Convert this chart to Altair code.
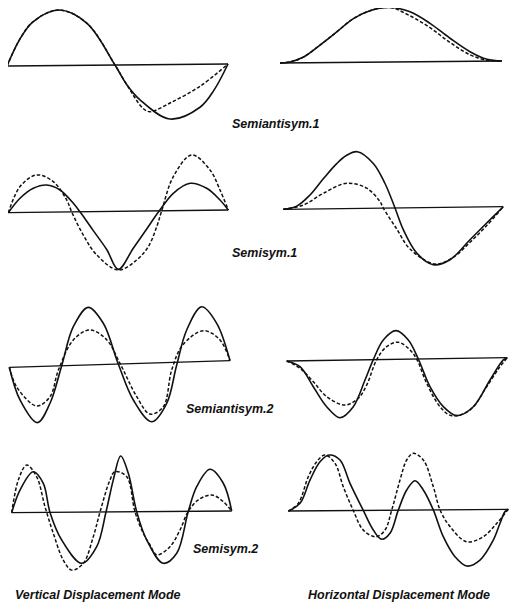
import altair as alt
import pandas as pd

# ---------------- mode-shape readings ----------------
# station = distance along the span from the left support
# defl    = deflection, positive upward (same units as station)

# Semiantisym.1 - vertical
v_sa1_solid_st = [0, 13, 26, 52, 80, 108, 120, 133, 163, 193, 207, 221]
v_sa1_solid_df = [0, 27, 44, 55.5, 42, 0, -20, -35, -54.5, -43, -26, 0]
v_sa1_dash_st = [0, 13, 26, 52, 80, 108, 120, 136, 143, 163, 193, 221]
v_sa1_dash_df = [0, 27, 44, 55.5, 42, 0, -20, -43.6, -47, -38.5, -22, 0]

# Semiantisym.1 - horizontal
h_sa1_solid_st = [0, 10, 23, 40, 57, 73, 90, 110, 130, 150, 170, 190, 207, 222]
h_sa1_solid_df = [0, 1, 5.5, 17.6, 30.8, 43.5, 51.5, 54.5, 50, 38.3, 23.2, 9.6, 1.8, 0]
h_sa1_dash_st = [0, 10, 23, 40, 57, 73, 90, 110, 130, 150, 170, 190, 207, 222]
h_sa1_dash_df = [0, 1, 5.5, 17.6, 30.8, 43.5, 51.5, 54.5, 46, 34, 19, 6.5, 0.8, 0]

# Semisym.1 - vertical
v_s1_solid_st = [0, 11.7, 25, 38.4, 51.7, 65, 71.7, 85, 98.4, 110, 125, 138.4, 151, 165, 181.7, 198.4, 211.7, 220]
v_s1_solid_df = [0, 14.3, 24.1, 27.2, 22.1, 8.6, 0, -19, -38, -58, -37, -18, 0, 17.4, 27.2, 22, 10.1, 0]
v_s1_dash_st = [0, 11.7, 28.4, 45, 58.4, 63.4, 75, 88.4, 110, 128.4, 140, 148.4, 153.4, 165, 183.4, 201.7, 211.7, 220]
v_s1_dash_df = [0, 26, 37.4, 30.5, 12, 0, -23.3, -43.3, -58.7, -48.8, -35.7, -15.9, 0, 34, 55.5, 40.3, 20.1, 0]

# Semisym.1 - horizontal
h_s1_solid_st = [0, 13.4, 26.7, 40, 53.4, 63, 74, 90, 101.7, 111.7, 120, 133.4, 150, 166.7, 186.7, 203.4, 220]
h_s1_solid_df = [0, 3, 14, 30, 45, 53, 56.7, 44.8, 24.6, 0, -21.8, -45.3, -57.2, -52.4, -32.6, -16.1, 0]
h_s1_dash_st = [0, 20, 40, 63.4, 83.4, 96.7, 100, 113.4, 126.7, 151.7, 170, 186.7, 203.4, 220]
h_s1_dash_df = [0, 4, 15.5, 25.3, 20.1, 6.5, 0, -21, -41.2, -56.5, -50, -35.2, -18.7, 0]

# Semiantisym.2 - vertical
v_sa2_solid_st = [0, 10.7, 28, 40.7, 52.4, 64, 79, 94, 109, 124, 142.4, 157.4, 167.4, 177.4, 192.4, 207.4, 220.7]
v_sa2_solid_df = [0, -33, -56.2, -37.2, 0, 38.7, 57.6, 41.2, 0, -36.4, -58.7, -40.7, -2.7, 32, 54.8, 37.8, 0]
v_sa2_dash_st = [0, 7.4, 27.4, 40.7, 49, 64, 80.7, 97.4, 110.7, 127.4, 140.7, 154, 162.4, 173.4, 194, 210.7, 220.7]
v_sa2_dash_df = [0, -19.9, -39.5, -30.6, -4.5, 25.4, 34.9, 24.6, 0.6, -33.1, -51, -44.1, -7.5, 17, 30.8, 21.1, 0]

# Semiantisym.2 - horizontal
h_sa2_solid_st = [0, 13.3, 26.6, 40, 53.3, 66.6, 78.3, 86.6, 96.6, 109.3, 121.6, 131.6, 143.3, 156.6, 170, 186.6, 203.3, 216.6, 220.6]
h_sa2_solid_df = [0, -5.9, -26.1, -46.3, -57.5, -46.7, -20.2, 0, 19.6, 28.7, 19.2, 0, -27.8, -48, -57.2, -48.5, -22, -2.2, 0]
h_sa2_dash_st = [0, 13.3, 26.6, 40, 58.3, 71.6, 80, 90, 100, 111.6, 123.3, 130, 140, 153.3, 165, 183.3, 200, 213.3, 220.6]
h_sa2_dash_df = [0, -7.5, -21.1, -36.3, -44.9, -38.3, -25.2, 0, 12.9, 17.1, 9.2, 0, -24.4, -48, -57.2, -51.8, -28.7, -8.9, 0]

# Semisym.2 - vertical
v_s2_solid_st = [0, 8.3, 21.6, 31.6, 38.3, 50, 70, 85, 94.3, 101.6, 109, 116.6, 125, 135, 151.6, 165, 176.6, 185, 198.3, 211.6, 220]
v_s2_solid_df = [0, 22.6, 40.8, 29.1, 0, -27.7, -51.1, -34.6, 0, 32, 55.9, 38.5, 0, -28.3, -51.8, -41.9, 0, 24.6, 41.9, 27.8, 0]
v_s2_dash_st = [0, 6.6, 15, 25, 33.3, 41.6, 51.6, 60, 71.6, 81.6, 88.3, 98.3, 103.3, 115, 123.3, 131.6, 138.3, 145, 158.3, 168.3, 176.6, 186.6, 200, 211.6, 220]
v_s2_dash_df = [0, 32.6, 47.5, 35.7, 5.7, -21, -47.8, -57.9, -51.2, -24.6, 0, 32, 40.3, 35.1, 0, -21.6, -33.3, -43.3, -35.2, -18.6, 0, 11.3, 16.2, 9.4, 0]

# Semisym.2 - horizontal
h_s2_solid_st = [0, 11.7, 21.7, 31.7, 41, 51.7, 61.7, 75, 85, 93.4, 101.7, 110, 118.4, 126.7, 135, 145, 155, 166.7, 178.4, 191.7, 205, 211.7, 216.7, 220]
h_s2_solid_df = [0, 7.6, 30.8, 49.1, 55.7, 50.6, 27.2, 0, -19.7, -29, -23.1, 0, 20.1, 29.3, 20, 0, -26.9, -47, -56.4, -50.5, -30.6, -13.9, -2.3, 0]
h_s2_dash_st = [0, 10, 20, 28.4, 36.7, 46.7, 55, 65, 75, 87.7, 96.7, 103.4, 111.7, 118.4, 125, 135, 145, 151.7, 161.7, 178.4, 195, 208.4, 220]
h_s2_dash_df = [0, 7.6, 34.1, 49.1, 55.7, 47.3, 23.8, 0, -19.7, -26.4, -19.8, 0, 30.1, 50.1, 56.7, 50, 23.2, 0, -16.8, -32.1, -27.2, -14, 0]

label_texts = ["Semiantisym.1", "Semisym.1", "Semiantisym.2", "Semisym.2",
               "Vertical Displacement Mode", "Horizontal Displacement Mode"]

# ---------------- layout (page pixels) ----------------
panels = {
    "v_sa1": dict(x=7, b0=66, b1=64, span=221, s=(v_sa1_solid_st, v_sa1_solid_df), d=(v_sa1_dash_st, v_sa1_dash_df)),
    "h_sa1": dict(x=280, b0=63, b1=61, span=222, s=(h_sa1_solid_st, h_sa1_solid_df), d=(h_sa1_dash_st, h_sa1_dash_df)),
    "v_s1": dict(x=8.3, b0=212.7, b1=210, span=220, s=(v_s1_solid_st, v_s1_solid_df), d=(v_s1_dash_st, v_s1_dash_df)),
    "h_s1": dict(x=283.3, b0=209.3, b1=206.7, span=220, s=(h_s1_solid_st, h_s1_solid_df), d=(h_s1_dash_st, h_s1_dash_df)),
    "v_sa2": dict(x=9.3, b0=367.3, b1=360.7, span=220.7, s=(v_sa2_solid_st, v_sa2_solid_df), d=(v_sa2_dash_st, v_sa2_dash_df)),
    "h_sa2": dict(x=286.7, b0=361, b1=357.7, span=220.6, s=(h_sa2_solid_st, h_sa2_solid_df), d=(h_sa2_dash_st, h_sa2_dash_df)),
    "v_s2": dict(x=11.7, b0=512.7, b1=511, span=220, s=(v_s2_solid_st, v_s2_solid_df), d=(v_s2_dash_st, v_s2_dash_df)),
    "h_s2": dict(x=288.3, b0=511, b1=509.3, span=220, s=(h_s2_solid_st, h_s2_solid_df), d=(h_s2_dash_st, h_s2_dash_df)),
}
label_x = [232, 232, 186, 193, 15, 308]
label_y = [124, 253, 409, 549, 595, 595]

rows = []
for name, p in panels.items():
    series = {"solid": p["s"], "dashed": p["d"], "base": ([0, p["span"]], [0, 0])}
    for style, (st, df) in series.items():
        for i, (a, d) in enumerate(zip(st, df)):
            base = p["b0"] + (p["b1"] - p["b0"]) * a / p["span"]
            rows.append(dict(key=f"{name}_{style}", style=style, order=i,
                             X=p["x"] + a, Y=base - d))
data = pd.DataFrame(rows)
labels = pd.DataFrame({"text": label_texts, "X": label_x, "Y": label_y})

xs = alt.Scale(domain=[8, 510], nice=False, zero=False)
ys = alt.Scale(domain=[8, 603], nice=False, zero=False, reverse=True)

def lines(style, **kw):
    return alt.Chart(data).transform_filter(alt.datum.style == style).mark_line(
        color="#111111", **kw
    ).encode(
        x=alt.X("X:Q", scale=xs, axis=None),
        y=alt.Y("Y:Q", scale=ys, axis=None),
        detail="key:N",
        order="order:Q",
    )

base_layer = lines("base", strokeWidth=1.3)
solid_layer = lines("solid", strokeWidth=1.6, interpolate="catmull-rom")
dash_layer = lines("dashed", strokeWidth=1.5, strokeDash=[3.5, 2], interpolate="catmull-rom")

text_layer = alt.Chart(labels).mark_text(
    align="left", baseline="middle", font="Liberation Sans", fontStyle="italic",
    fontWeight="bold", fontSize=12.5, color="#111111"
).encode(
    x=alt.X("X:Q", scale=xs, axis=None),
    y=alt.Y("Y:Q", scale=ys, axis=None),
    text="text:N",
)

chart = alt.layer(base_layer, solid_layer, dash_layer, text_layer).properties(
    width=502, height=595, padding=0,
    autosize=alt.AutoSizeParams(type="none"),
).configure_view(stroke=None)

chart.save("out.html", embed_options={"renderer": "svg", "actions": False})
